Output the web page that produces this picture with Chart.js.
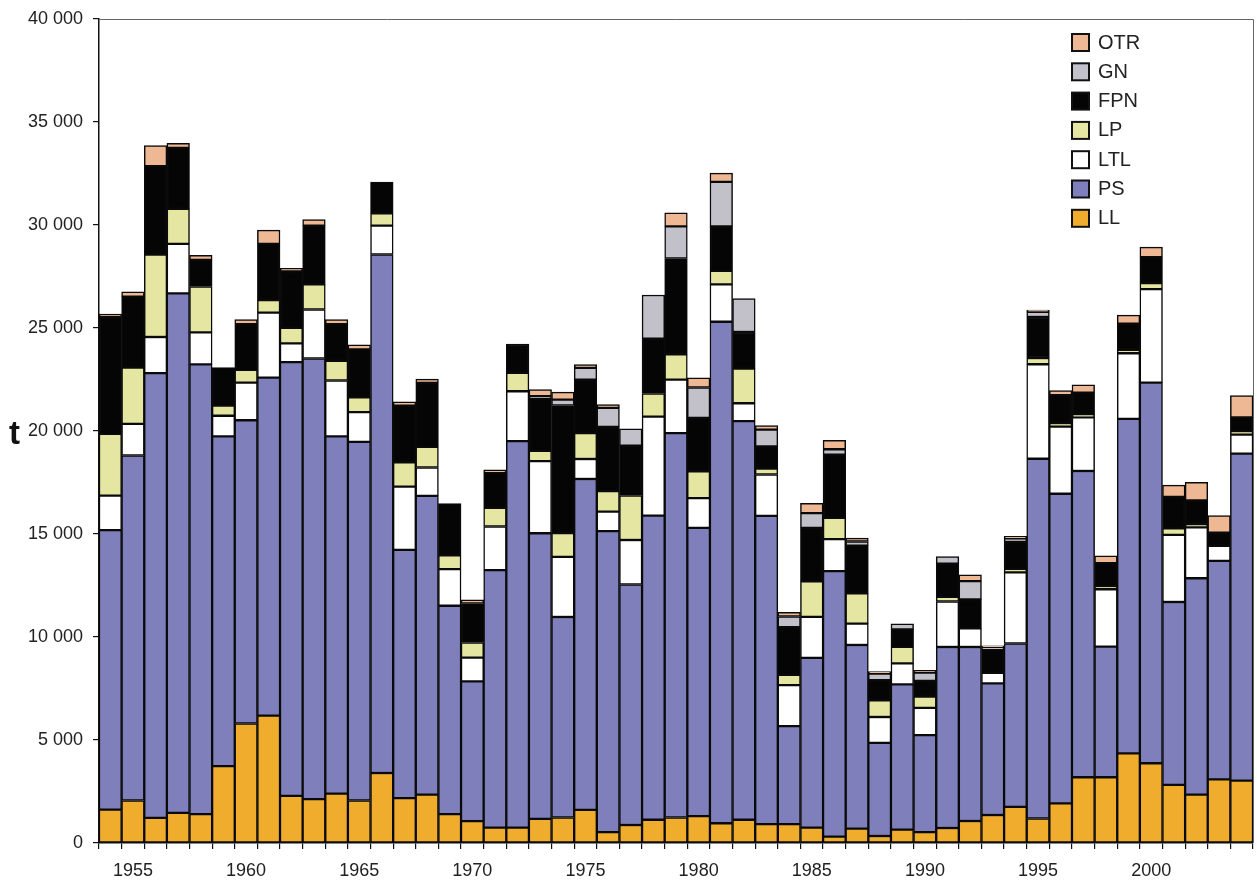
<!DOCTYPE html>
<html>
<head>
<meta charset="utf-8">
<script src="https://cdn.jsdelivr.net/npm/chart.js@4.4.1/dist/chart.umd.min.js"></script>
<style>
  body { margin: 0; background: #fff; }
  #wrap { width: 1257px; height: 884px; }
</style>
</head>
<body>
<div id="wrap"><canvas id="catchChart"></canvas></div>
<script>
const years = [];
for (let y = 1954; y <= 2004; y++) years.push(y);

const LL = [1620, 2065, 1220, 1465, 1400, 3730, 5800, 6180, 2290, 2130,
  2400, 2065, 3400, 2180, 2350, 1400, 1065, 745, 745, 1175,
  1240, 1610, 530, 875, 1130, 1240, 1305, 960, 1130, 920,
  920, 745, 310, 700, 340, 650, 530, 730, 1070, 1360,
  1750, 1190, 1920, 3190, 3190, 4350, 3870, 2820, 2350, 3090, 3030];
const PS = [13570, 16745, 21590, 25215, 21835, 16010, 14720, 16410, 21050, 21390,
  17340, 17410, 25170, 12050, 14500, 10115, 6780, 12500, 18765, 13860,
  9730, 16060, 14610, 11675, 14765, 18660, 13990, 24345, 19350, 14960,
  4755, 8240, 12885, 8910, 4520, 7050, 4705, 8785, 8445, 6390,
  7935, 17465, 15035, 14870, 6340, 16235, 18480, 8880, 10500, 10605, 15875];
const LTL = [1670, 1535, 1755, 2400, 1555, 1000, 1825, 3160, 910, 2380,
  2710, 1445, 1400, 3070, 1380, 1780, 1155, 2120, 2420, 3500,
  2920, 970, 950, 2160, 4800, 2595, 1450, 1815, 865, 2010,
  1990, 1990, 1555, 1040, 1255, 1020, 1325, 2210, 900, 510,
  3450, 4585, 3260, 2600, 2790, 3190, 4535, 3255, 2475, 735, 920];
const LP = [3000, 2735, 4000, 1710, 2225, 490, 620, 600, 760, 1220,
  960, 710, 600, 1180, 1000, 670, 735, 910, 890, 500,
  1150, 1255, 995, 2160, 1125, 1230, 1300, 650, 1685, 280,
  500, 1730, 1035, 1470, 815, 800, 545, 220, null, null,
  170, 305, 170, 150, 150, 170, 295, 315, 150, null, 170];
const FPN = [5660, 3445, 4290, 2955, 1290, 1845, 2220, 2735, 2735, 2850,
  1780, 2335, 1510, 2755, 3110, 2510, 1890, 1690, 1405, 2530,
  6200, 2595, 3115, 2420, 2660, 4650, 2595, 2160, 1775, 1080,
  2315, 2595, 3070, 2315, 970, 850, 765, 1615, 1410, 1140,
  1310, 1990, 1360, 1050, 1115, 1260, 1260, 1535, 1155, 630, 670];
const GN = [null, null, null, null, null, null, null, null, null, null,
  null, null, null, null, null, null, null, null, null, 120,
  280, 580, 930, 820, 2120, 1560, 1470, 2160, 1620, 815,
  515, 715, 260, 200, 320, 270, 400, 340, 885, 100,
  170, 250, null, null, null, null, null, null, null, null, null];
const OTR = [160, 225, 1000, 220, 220, null, 220, 670, 155, 290,
  220, 220, null, 180, 180, null, 180, 150, null, 320,
  370, 150, 150, null, null, 650, 475, 430, null, 200,
  200, 475, 430, 170, 100, null, 110, null, 305, 70,
  100, 90, 220, 380, 355, 420, 485, 565, 880, 840, 1050];

const series = [
  ['LL', LL, '#f0ac2c'],
  ['PS', PS, '#7e7fbb'],
  ['LTL', LTL, '#ffffff'],
  ['LP', LP, '#e4e6a2'],
  ['FPN', FPN, '#050505'],
  ['GN', GN, '#c2c1c9'],
  ['OTR', OTR, '#eeb894']
];

const fmt = v => String(v).replace(/\B(?=(\d{3})+(?!\d))/g, ' ');

// frame round the plot, legend inside top right, and the "t" axis label
const extras = {
  id: 'extras',
  afterDraw(chart) {
    const { ctx, chartArea: a } = chart;
    ctx.save();
    ctx.strokeStyle = '#666';
    ctx.lineWidth = 1;
    ctx.beginPath();
    ctx.moveTo(a.left, a.top + 0.5);
    ctx.lineTo(a.right + 0.5, a.top + 0.5);
    ctx.lineTo(a.right + 0.5, a.bottom);
    ctx.stroke();

    const items = chart.data.datasets.slice().reverse();
    ctx.font = '20px "Liberation Sans", Arial, sans-serif';
    ctx.textBaseline = 'middle';
    items.forEach((ds, i) => {
      const y = 42 + i * 29.3;
      const x = a.right - 181;
      ctx.fillStyle = ds.backgroundColor;
      ctx.fillRect(x, y - 8, 17, 17);
      ctx.strokeStyle = '#111';
      ctx.lineWidth = 2;
      ctx.strokeRect(x, y - 8, 17, 17);
      ctx.fillStyle = '#222';
      ctx.fillText(ds.label, x + 26, y + 1);
    });

    ctx.font = 'bold 33px "Liberation Sans", Arial, sans-serif';
    ctx.fillStyle = '#111';
    ctx.textBaseline = 'alphabetic';
    ctx.fillText('t', 9, 444);
    ctx.restore();
  }
};

const ctx = document.querySelector('#catchChart').getContext('2d');
const catchChart = new Chart(ctx, {
  type: 'bar',
  data: {
    labels: years,
    datasets: series.map(([label, data, color]) => ({
      label: label,
      data: data,
      backgroundColor: color,
      borderColor: '#0a0a0a',
      borderWidth: 1.5,
      borderSkipped: false,
      barPercentage: 1,
      categoryPercentage: 1
    }))
  },
  options: {
    responsive: true,
    maintainAspectRatio: false,
    animation: false,
    layout: { padding: { top: 17, right: 4, left: 0, bottom: 0 } },
    plugins: {
      legend: { display: false },
      tooltip: { enabled: false }
    },
    scales: {
      x: {
        stacked: true,
        afterFit: scale => { scale.height = 41; },
        grid: {
          display: true,
          drawOnChartArea: false,
          drawTicks: true,
          tickLength: 6,
          offset: true,
          color: '#111',
          lineWidth: 1.2
        },
        border: { display: true, color: '#111', width: 1.5 },
        ticks: {
          autoSkip: false,
          maxRotation: 0,
          padding: 11,
          color: '#222',
          font: { family: '"Liberation Sans", Arial, sans-serif', size: 18 },
          callback: (val, i) => (years[i] % 5 === 0 ? String(years[i]) : '')
        }
      },
      y: {
        stacked: true,
        min: 0,
        max: 40000,
        afterFit: scale => { scale.width = 99; },
        grid: {
          display: true,
          drawOnChartArea: false,
          drawTicks: true,
          tickLength: 6,
          color: '#111',
          lineWidth: 1.2
        },
        border: { display: true, color: '#111', width: 1.5 },
        ticks: {
          stepSize: 5000,
          padding: 10,
          color: '#222',
          font: { family: '"Liberation Sans", Arial, sans-serif', size: 18, lineHeight: 1 },
          callback: v => fmt(v)
        }
      }
    }
  },
  plugins: [extras]
});
</script>
</body>
</html>
